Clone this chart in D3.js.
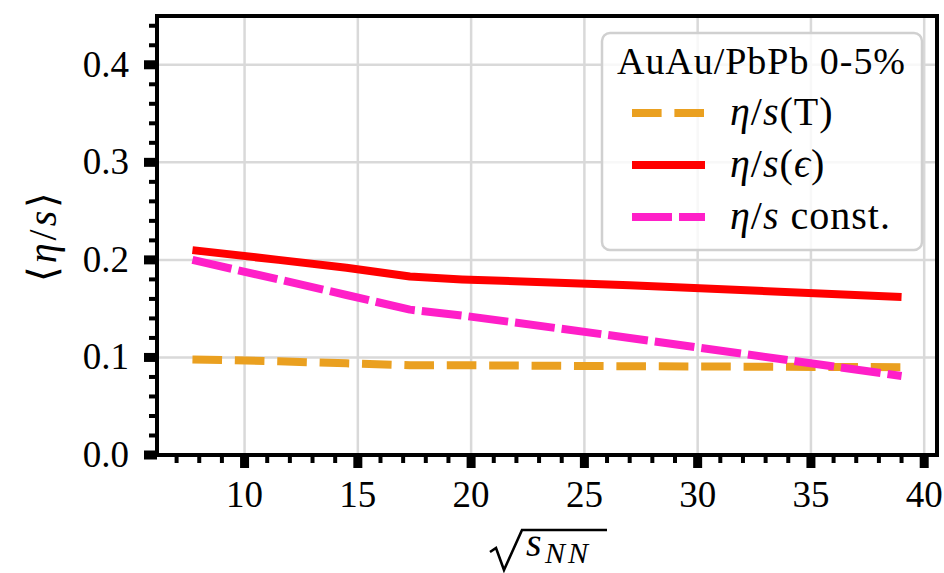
<!DOCTYPE html>
<html>
<head>
<meta charset="utf-8">
<script src="https://cdn.jsdelivr.net/npm/d3@7"></script>
<style>
  html, body { margin: 0; padding: 0; background: #fff; }
  svg { display: block; }
</style>
</head>
<body>
<svg id="chart" width="944" height="573" font-family="'Liberation Serif', 'Times New Roman', serif"></svg>
<script>
// Collision energies (GeV)
const energies = [7.7, 11.5, 14.5, 17.3, 19.6, 27, 39];

// Average shear viscosity to entropy ratio per parametrisation
const etaT     = [0.098, 0.096, 0.094, 0.092, 0.092, 0.091, 0.090];
const etaEps   = [0.210, 0.200, 0.192, 0.183, 0.180, 0.174, 0.162];
const etaConst = [0.200, 0.180, 0.164, 0.149, 0.143, 0.120, 0.081];

const xTicks = [10, 15, 20, 25, 30, 35, 40];
const yTicks = [0.0, 0.1, 0.2, 0.3, 0.4];
const xMinor = d3.range(7, 41).filter(v => v % 5 !== 0);
const yMinor = d3.range(0, 0.45, 0.02).filter(v => Math.abs(v * 10 - Math.round(v * 10)) > 1e-6);

const legendTitle = "AuAu/PbPb 0-5%";

const series = [
  { name: "T",     values: etaT,     color: "#eaa020", dash: "29.6,12.8" },
  { name: "eps",   values: etaEps,   color: "#ff0000", dash: null },
  { name: "const", values: etaConst, color: "#ff1fc8", dash: "40,7" }
];

const svg = d3.select("#chart");
const pL = 157, pR = 937, pT = 16, pB = 455;

const pad = (d3.max(energies) - d3.min(energies)) * 0.05;
const x = d3.scaleLinear()
  .domain([d3.min(energies) - pad, d3.max(energies) + pad])
  .range([pL, pR]);
const y = d3.scaleLinear().domain([0, 0.45]).range([pB, pT]);

// grid
const grid = svg.append("g").attr("stroke", "#d9d9d9").attr("stroke-width", 2.5);
grid.selectAll(".gx").data(xTicks).join("line")
  .attr("x1", d => x(d)).attr("x2", d => x(d))
  .attr("y1", pT).attr("y2", pB);
grid.selectAll(".gy").data(yTicks).join("line")
  .attr("y1", d => y(d)).attr("y2", d => y(d))
  .attr("x1", pL).attr("x2", pR);

// curves
svg.append("clipPath").attr("id", "plotclip")
  .append("rect").attr("x", pL).attr("y", pT)
  .attr("width", pR - pL).attr("height", pB - pT);

const line = d3.line().x(d => x(d[0])).y(d => y(d[1]));
const plot = svg.append("g").attr("clip-path", "url(#plotclip)");
series.forEach(s => {
  plot.append("path")
    .datum(energies.map((e, i) => [e, s.values[i]]))
    .attr("d", line)
    .attr("fill", "none")
    .attr("stroke", s.color)
    .attr("stroke-width", 8)
    .attr("stroke-linejoin", "round")
    .attr("stroke-dasharray", s.dash);
});

// legend
const lg = svg.append("g");
lg.append("rect")
  .attr("x", 602).attr("y", 33).attr("width", 320).attr("height", 217)
  .attr("rx", 8).attr("ry", 8)
  .attr("fill", "#fff").attr("fill-opacity", 0.8)
  .attr("stroke", "#d0d0d0").attr("stroke-width", 2.5);
lg.append("text").attr("x", 761).attr("y", 74)
  .attr("text-anchor", "middle").attr("font-size", 38)
  .attr("textLength", 288).attr("lengthAdjust", "spacing")
  .text(legendTitle);

const labelParts = [
  [["η", true], ["/", false], ["s", true], ["(T)", false]],
  [["η", true], ["/", false], ["s", true], ["(", false], ["ϵ", true], [")", false]],
  [["η", true], ["/", false], ["s", true], [" const.", false]]
];
series.forEach((s, i) => {
  const cy = 113 + i * 52;
  lg.append("line")
    .attr("x1", 632).attr("x2", 705).attr("y1", cy).attr("y2", cy)
    .attr("stroke", s.color).attr("stroke-width", 8)
    .attr("stroke-dasharray", s.dash);
  const t = lg.append("text").attr("x", 730).attr("y", cy + 12)
    .attr("font-size", 40).attr("letter-spacing", 1);
  labelParts[i].forEach(([str, it]) => {
    t.append("tspan").attr("font-style", it ? "italic" : "normal").text(str);
  });
});

// spines
svg.append("rect")
  .attr("x", pL).attr("y", pT)
  .attr("width", pR - pL).attr("height", pB - pT)
  .attr("fill", "none").attr("stroke", "#000").attr("stroke-width", 4);

// ticks
const tk = svg.append("g").attr("stroke", "#000");
tk.selectAll(".xmaj").data(xTicks).join("line")
  .attr("x1", d => x(d)).attr("x2", d => x(d))
  .attr("y1", pB).attr("y2", pB + 13).attr("stroke-width", 9);
tk.selectAll(".xmin").data(xMinor).join("line")
  .attr("x1", d => x(d)).attr("x2", d => x(d))
  .attr("y1", pB).attr("y2", pB + 8).attr("stroke-width", 4);
tk.selectAll(".ymaj").data(yTicks).join("line")
  .attr("y1", d => y(d)).attr("y2", d => y(d))
  .attr("x1", pL).attr("x2", pL - 13).attr("stroke-width", 9);
tk.selectAll(".ymin").data(yMinor).join("line")
  .attr("y1", d => y(d)).attr("y2", d => y(d))
  .attr("x1", pL).attr("x2", pL - 8).attr("stroke-width", 4);

// tick labels
svg.selectAll(".xl").data(xTicks).join("text")
  .attr("x", d => x(d)).attr("y", 507)
  .attr("text-anchor", "middle").attr("font-size", 37)
  .text(d => d);
svg.selectAll(".yl").data(yTicks).join("text")
  .attr("x", 129).attr("y", d => y(d) + 12)
  .attr("text-anchor", "end").attr("font-size", 37)
  .text(d3.format(".1f"));

// y-axis label
const yl = svg.append("text")
  .attr("transform", `translate(56,${(pT + pB) / 2}) rotate(-90)`)
  .attr("text-anchor", "middle").attr("font-size", 40)
  .attr("letter-spacing", 3);
[["⟨", false], ["η", true], ["/", false], ["s", true], ["⟩", false]].forEach(([str, it]) => {
  yl.append("tspan").attr("font-style", it ? "italic" : "normal").text(str);
});

// x-axis label: square root of s_NN
svg.append("path")
  .attr("d", "M490,552 L496,548 L504,570 L522,530 L607,530")
  .attr("fill", "none").attr("stroke", "#000").attr("stroke-width", 2.6)
  .attr("stroke-linejoin", "miter");
svg.append("text").attr("x", 526).attr("y", 556)
  .attr("font-size", 40).attr("font-style", "italic").text("s");
svg.append("text").attr("x", 545).attr("y", 563)
  .attr("font-size", 30).attr("font-style", "italic")
  .attr("letter-spacing", 3).text("NN");
</script>
</body>
</html>
